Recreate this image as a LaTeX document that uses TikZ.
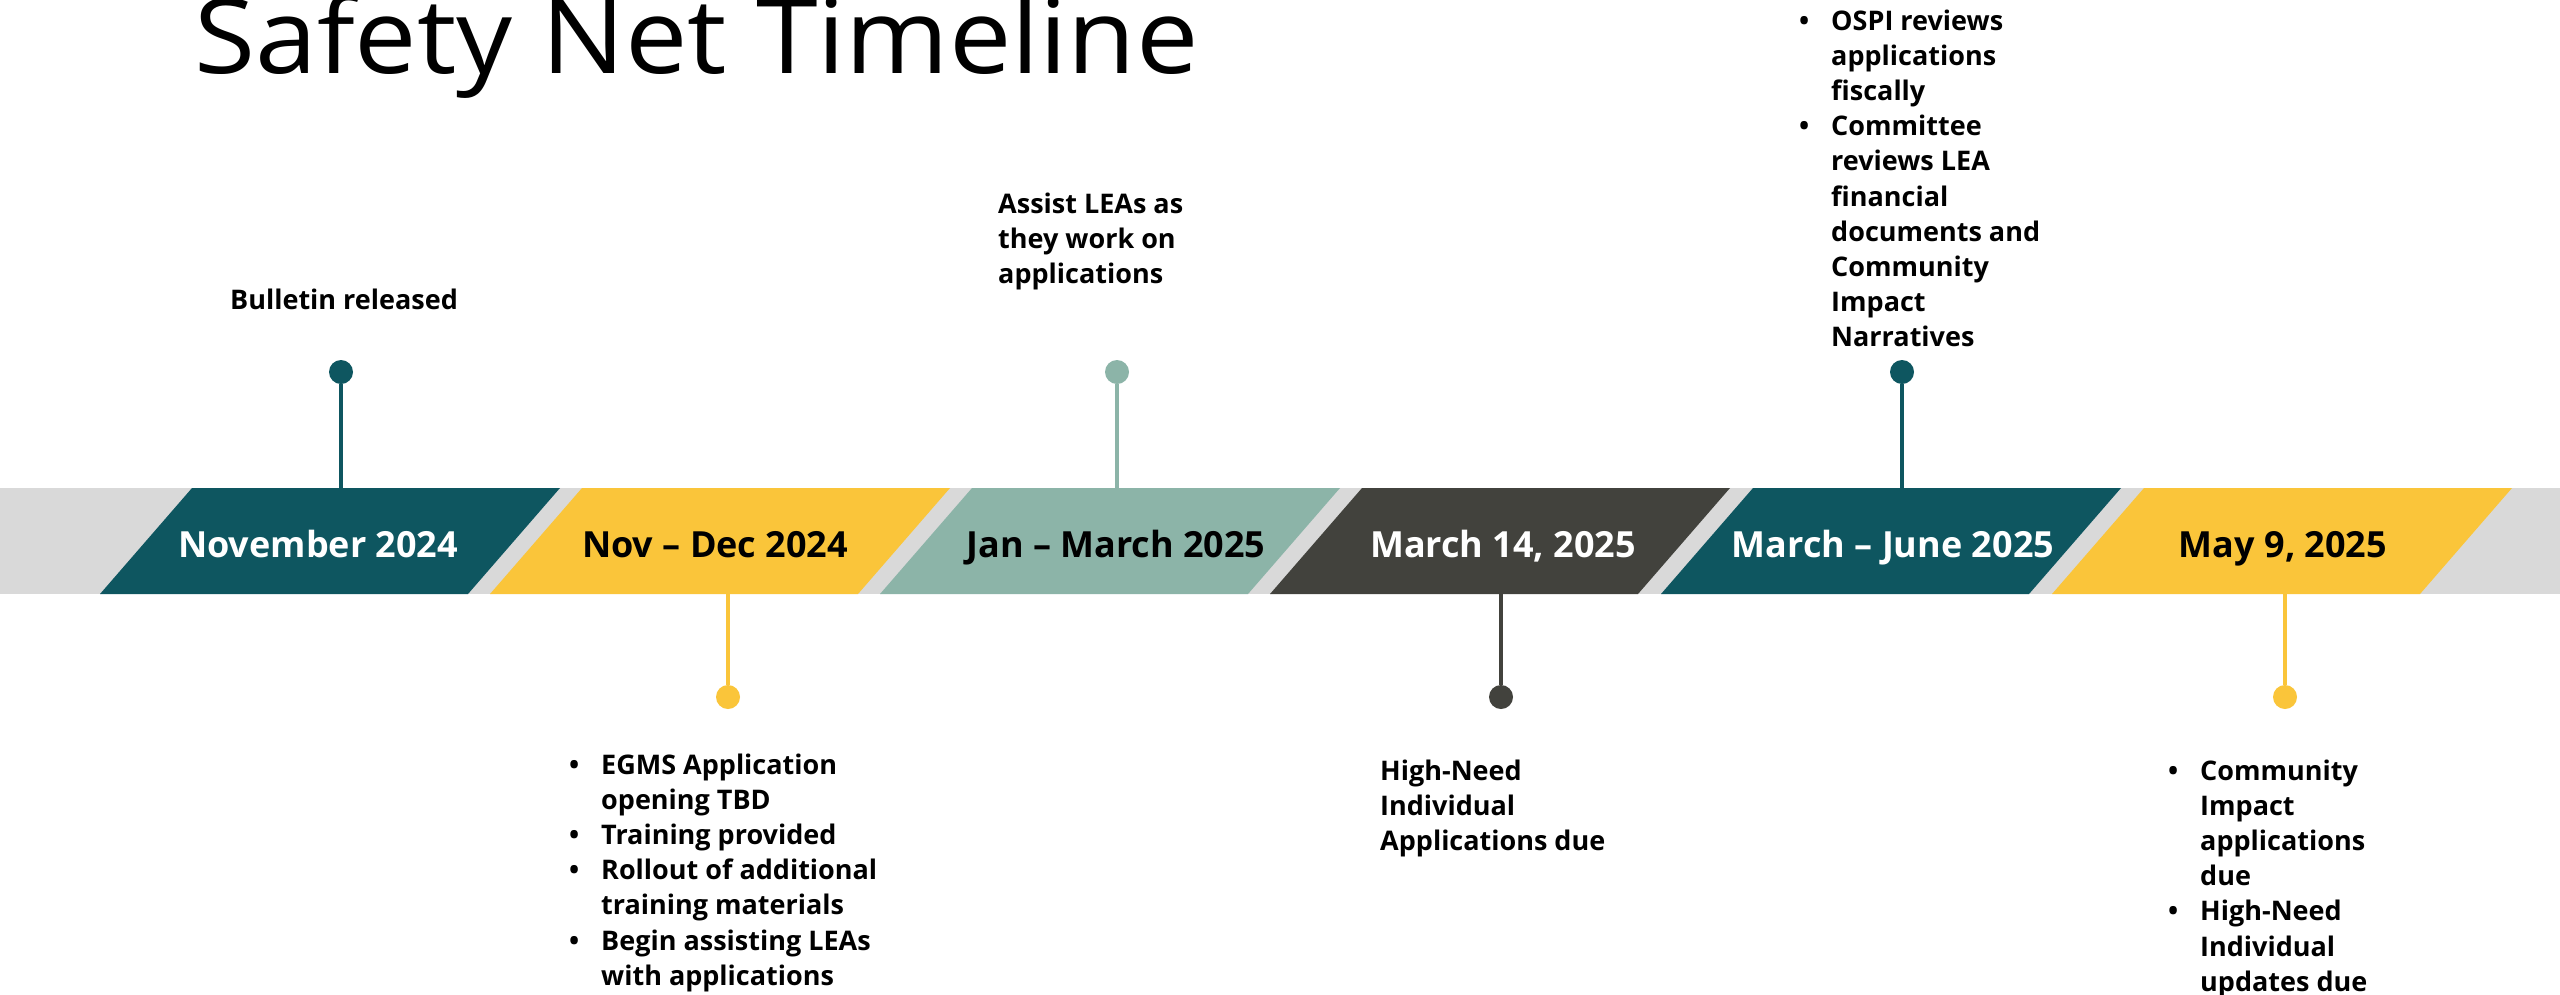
\documentclass[tikz,border=0pt]{standalone}
\usepackage{xcolor}
\usepackage{fontspec}
\setmainfont{Open Sans}
\newfontfamily\titlefont{Open Sans}[FakeStretch = 1.07]
\usepackage{tikz}
\usetikzlibrary{arrows.meta}
\usetikzlibrary{positioning, shapes.geometric, backgrounds}
\definecolor{sntteal}{HTML}{0E5660}
\definecolor{sntyellow}{HTML}{FAC53A}
\definecolor{sntsage}{HTML}{8CB4A8}
\definecolor{sntgray}{HTML}{42423D}
\definecolor{sntband}{HTML}{D9D9D9}
\newcommand{\notebullet}{\makebox[32pt][l]{\textbullet}}
\newcommand{\noteindent}{\hspace*{32pt}}
\tikzset{
band/.style = { fill = sntband, draw = none },
period label/.style = { anchor = base, inner sep = 0pt, font = \fontsize{36}{40}\selectfont\bfseries },
event dot/.style = { circle, fill = #1, draw = none, minimum size = 24pt, inner sep = 0pt },
stem/.style = { draw = #1, line width = 4pt },
note/.style = { anchor = base west, inner sep = 0pt, font = \fontsize{27}{35.2}\selectfont\bfseries },
}
\tikzset{
pics/period/.style args={#1, #2, #3, #4}{
        code = {
        \path[fill = #3] (-138, -53) -- (230, -53) -- (138, 53) -- (-230, 53) -- cycle;
        \node[period label, text = #4] (-label) at (#2, 16) {#1};
        \coordinate (-top) at (0, -53);
        \coordinate (-bottom) at (0, 53);
        }
    }
}

\begin{document}
\begin{tikzpicture}[x = 1pt, y = -1pt]
    \fill[white] (0, 0) rectangle (2560, 994);
    \useasboundingbox (0, 0) rectangle (2560, 994);
    \node[anchor = base west, inner sep = 0pt, font = \titlefont\fontsize{104}{116}\selectfont] (title) at (194, 73) {Safety Net Timeline};
    \fill[band] (0, 488) rectangle (2560, 594);
    \pic (nov) at (330, 541) {period = {November 2024, -12, sntteal, white}};
    \pic (novdec) at (720, 541) {period = {Nov – Dec 2024, -5, sntyellow, black}};
    \pic (janmar) at (1110, 541) {period = {Jan – March 2025, 6, sntsage, black}};
    \pic (mar) at (1500, 541) {period = {{March 14, 2025}, 3, sntgray, white}};
    \pic (marjun) at (1891, 541) {period = {March – June 2025, 2, sntteal, white}};
    \pic (may) at (2282, 541) {period = {{May 9, 2025}, 1, sntyellow, black}};
    % upper events
    \node[event dot = sntteal] (novdot) at (341, 372) {};
    \node[event dot = sntsage] (janmardot) at (1117, 372) {};
    \node[event dot = sntteal] (marjundot) at (1902, 372) {};
    \draw[stem = sntteal] (novdot) -- (novdot |- nov-top);
    \draw[stem = sntsage] (janmardot) -- (janmardot |- janmar-top);
    \draw[stem = sntteal] (marjundot) -- (marjundot |- marjun-top);
    % lower events
    \node[event dot = sntyellow] (novdecdot) at (728, 697) {};
    \node[event dot = sntgray] (mardot) at (1501, 697) {};
    \node[event dot = sntyellow] (maydot) at (2285, 697) {};
    \draw[stem = sntyellow] (novdecdot) -- (novdecdot |- novdec-bottom);
    \draw[stem = sntgray] (mardot) -- (mardot |- mar-bottom);
    \draw[stem = sntyellow] (maydot) -- (maydot |- may-bottom);
    % notes
    \node[note] (novnote) at (230, 309) {Bulletin released};
    \node[note] (janmarnote) at (998, 213) {\begin{tabular}[t]{@{}l@{}}Assist LEAs as\\ they work on\\ applications\end{tabular}};
    \node[note] (marjunnote) at (1799, 30) {\begin{tabular}[t]{@{}l@{}}\notebullet OSPI reviews\\ \noteindent applications\\ \noteindent fiscally\\ \notebullet Committee\\ \noteindent reviews LEA\\ \noteindent financial\\ \noteindent documents and\\ \noteindent Community\\ \noteindent Impact\\ \noteindent Narratives\end{tabular}};
    \node[note] (novdecnote) at (569, 774) {\begin{tabular}[t]{@{}l@{}}\notebullet EGMS Application\\ \noteindent opening TBD\\ \notebullet Training provided\\ \notebullet Rollout of additional\\ \noteindent training materials\\ \notebullet Begin assisting LEAs\\ \noteindent with applications\end{tabular}};
    \node[note] (marnote) at (1380, 780) {\begin{tabular}[t]{@{}l@{}}High-Need\\ Individual\\ Applications due\end{tabular}};
    \node[note] (maynote) at (2168, 780) {\begin{tabular}[t]{@{}l@{}}\notebullet Community\\ \noteindent Impact\\ \noteindent applications\\ \noteindent due\\ \notebullet High-Need\\ \noteindent Individual\\ \noteindent updates due\end{tabular}};
  \end{tikzpicture}
\end{document}
